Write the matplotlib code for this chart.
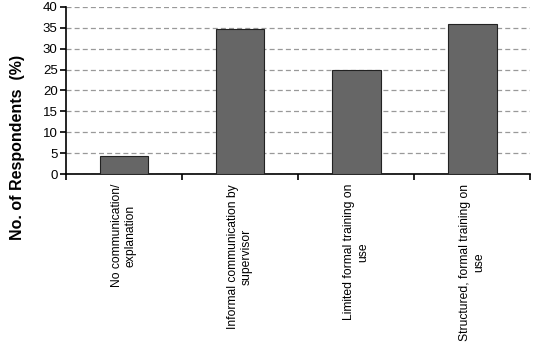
import matplotlib.pyplot as plt

plt.rcParams['font.family'] = ['Liberation Sans', 'DejaVu Sans']

# data
categories = ['No communication/\nexplanation',
              'Informal communication by\nsupervisor',
              'Limited formal training on\nuse',
              'Structured, formal training on\nuse']
values = [4.3, 34.8, 25.0, 36.0]
yticks = [0, 5, 10, 15, 20, 25, 30, 35, 40]

fig = plt.figure(figsize=(5.43, 3.46), dpi=100)
ax = fig.add_axes([0.1215, 0.497, 0.855, 0.483])

x = list(range(len(categories)))
ax.bar(x, values, width=0.42, color='#666666', edgecolor='#222222', linewidth=0.8, zorder=3)

ax.set_xlim(-0.5, len(categories) - 0.5)
ax.set_ylim(0, 40)
ax.set_yticks(yticks)
ax.yaxis.grid(True, linestyle=(0, (4, 2.5)), color='#999999', linewidth=0.9, zorder=0)

ax.spines['top'].set_visible(False)
ax.spines['right'].set_visible(False)
ax.spines['left'].set_linewidth(1.2)
ax.spines['bottom'].set_linewidth(1.2)

# ticks between categories on the x axis
ax.set_xticks([i - 0.5 for i in range(len(categories) + 1)])
ax.set_xticklabels([])
ax.tick_params(axis='x', direction='out', length=4, width=1.2)
ax.tick_params(axis='y', direction='out', length=4, width=1.2, labelsize=9.5, pad=2)

for i, lab in enumerate(categories):
    ax.text(i, -2.4, lab, rotation=90, ha='center', va='top', multialignment='center',
            fontsize=8.7)

ax.set_ylabel('No. of Respondents  (%)', fontsize=11.5, fontweight='bold')
ax.yaxis.set_label_coords(-0.088, 0.16)

fig.savefig('out.png', dpi=100)
